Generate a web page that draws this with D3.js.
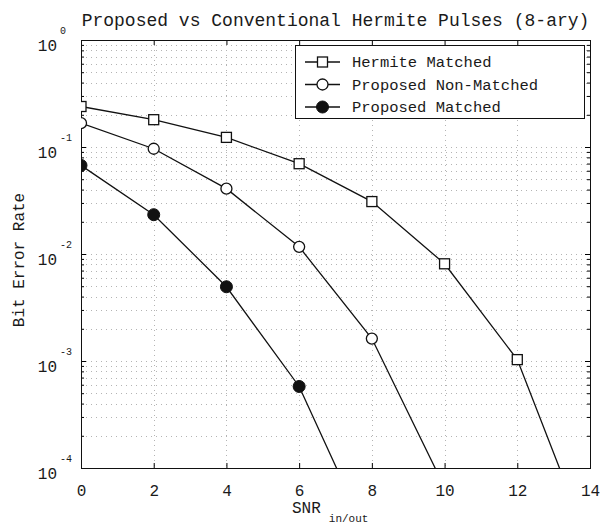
<!DOCTYPE html>
<html>
<head>
<meta charset="utf-8">
<script src="https://cdn.jsdelivr.net/npm/d3@7"></script>
<style>
  body { margin: 0; background: #fff; }
  text { font-family: "Liberation Mono", "DejaVu Sans Mono", monospace; fill: #1a1a1a; }
</style>
</head>
<body>
<svg id="chart" width="610" height="526"></svg>
<script>
// Tick values
const snrTicks = [0, 2, 4, 6, 8, 10, 12, 14];
const berDecades = [1, 0.1, 0.01, 0.001, 0.0001];
const berExponents = ["0", "-1", "-2", "-3", "-4"];

// Bit error rate curves (last point of each runs below the axis floor)
const hermiteSNR = [0, 2, 4, 6, 8, 10, 12, 14];
const hermiteBER = [0.239, 0.180, 0.123, 0.0698, 0.0309, 0.0081, 0.00103, 0.0000185];

const nonMatchedSNR = [0, 2, 4, 6, 8, 10];
const nonMatchedBER = [0.167, 0.0963, 0.0408, 0.01167, 0.00162, 0.000066];

const matchedSNR = [0, 2, 4, 6, 8];
const matchedBER = [0.0673, 0.0233, 0.00494, 0.000578, 0.000019];

const seriesNames = ["Hermite Matched", "Proposed Non-Matched", "Proposed Matched"];
const seriesMarkers = ["square", "circle", "disc"];

const series = [
  { name: seriesNames[0], marker: seriesMarkers[0], xs: hermiteSNR, ys: hermiteBER },
  { name: seriesNames[1], marker: seriesMarkers[1], xs: nonMatchedSNR, ys: nonMatchedBER },
  { name: seriesNames[2], marker: seriesMarkers[2], xs: matchedSNR, ys: matchedBER }
];

const L = 81, R = 590, T = 40, B = 468;
const svg = d3.select("#chart");

const x = d3.scaleLinear().domain([0, 14]).range([L, R]);
const y = d3.scaleLog().domain([1e-4, 1]).range([B, T]);

// Minor log values 2..9 in each decade
const minorVals = [];
[1e-4, 1e-3, 1e-2, 1e-1].forEach(d => { for (let k = 2; k <= 9; k++) minorVals.push(d * k); });

// Faint dotted grid
const grid = svg.append("g").attr("stroke", "#b4b4b4").attr("stroke-width", 1)
  .attr("stroke-dasharray", "1,4").attr("fill", "none");
grid.selectAll("line.h").data(minorVals.concat(berDecades.slice(1, 4))).join("line")
  .attr("x1", L).attr("x2", R).attr("y1", d => Math.round(y(d)) + 0.5).attr("y2", d => Math.round(y(d)) + 0.5);
grid.selectAll("line.v").data(snrTicks.slice(1, -1)).join("line")
  .attr("x1", d => Math.round(x(d)) + 0.5).attr("x2", d => Math.round(x(d)) + 0.5)
  .attr("y1", T).attr("y2", B);

// Axes with inward ticks on all four sides
const xBottom = d3.axisBottom(x).tickValues(snrTicks).tickSizeInner(-5).tickSizeOuter(0).tickPadding(17);
const gxB = svg.append("g").attr("transform", `translate(0,${B})`).call(xBottom);
gxB.selectAll("text").attr("font-size", 16).attr("font-family", "Liberation Mono").attr("fill", "#1a1a1a");

const xTop = d3.axisTop(x).tickValues(snrTicks).tickSizeInner(-5).tickSizeOuter(0).tickFormat("");
svg.append("g").attr("transform", `translate(0,${T})`).call(xTop);

const yLeftMajor = d3.axisLeft(y).tickValues(berDecades).tickSizeInner(-5).tickSizeOuter(0).tickFormat("");
svg.append("g").attr("transform", `translate(${L},0)`).call(yLeftMajor);
const yLeftMinor = d3.axisLeft(y).tickValues(minorVals).tickSizeInner(-3).tickSizeOuter(0).tickFormat("");
svg.append("g").attr("transform", `translate(${L},0)`).call(yLeftMinor);
const yRightMajor = d3.axisRight(y).tickValues(berDecades).tickSizeInner(-5).tickSizeOuter(0).tickFormat("");
svg.append("g").attr("transform", `translate(${R},0)`).call(yRightMajor);
const yRightMinor = d3.axisRight(y).tickValues(minorVals).tickSizeInner(-3).tickSizeOuter(0).tickFormat("");
svg.append("g").attr("transform", `translate(${R},0)`).call(yRightMinor);

svg.selectAll(".domain").remove();

// Frame
svg.append("rect").attr("x", L + 0.5).attr("y", T + 0.5).attr("width", R - L).attr("height", B - T)
  .attr("fill", "none").attr("stroke", "#111").attr("stroke-width", 1);

// Y tick labels: 10 with superscript exponent
const yl = svg.append("g");
berDecades.forEach((d, i) => {
  yl.append("text").attr("x", 57).attr("y", y(d) + 11).attr("text-anchor", "end")
    .attr("font-size", 16).text("10");
  yl.append("text").attr("x", 60).attr("y", y(d) - 6).attr("font-size", 10)
    .text(berExponents[i]);
});

// Curves
const clip = svg.append("clipPath").attr("id", "plotclip");
clip.append("rect").attr("x", L).attr("y", T).attr("width", R - L + 1).attr("height", B - T + 1);
const plot = svg.append("g").attr("clip-path", "url(#plotclip)");

const line = d3.line().x(d => x(d[0])).y(d => y(d[1]));

function drawMarker(g, kind, cx, cy) {
  if (kind === "square") {
    g.append("rect").attr("x", cx - 5).attr("y", cy - 5).attr("width", 10).attr("height", 10)
      .attr("fill", "#fff").attr("stroke", "#111").attr("stroke-width", 1.3);
  } else if (kind === "circle") {
    g.append("circle").attr("cx", cx).attr("cy", cy).attr("r", 5.5)
      .attr("fill", "#fff").attr("stroke", "#111").attr("stroke-width", 1.3);
  } else {
    g.append("circle").attr("cx", cx).attr("cy", cy).attr("r", 6)
      .attr("fill", "#111").attr("stroke", "#111").attr("stroke-width", 1);
  }
}

series.forEach(s => {
  const pts = s.xs.map((v, i) => [v, s.ys[i]]);
  plot.append("path").datum(pts).attr("d", line)
    .attr("fill", "none").attr("stroke", "#111").attr("stroke-width", 1.3);
  pts.forEach(p => drawMarker(plot, s.marker, x(p[0]), y(p[1])));
});

// Legend
const lg = svg.append("g");
lg.append("rect").attr("x", 295.5).attr("y", 45.5).attr("width", 289).attr("height", 73)
  .attr("fill", "#fff").attr("stroke", "#111").attr("stroke-width", 1);
const rowY = [62, 84.5, 107];
series.forEach((s, i) => {
  lg.append("line").attr("x1", 305).attr("x2", 340).attr("y1", rowY[i]).attr("y2", rowY[i])
    .attr("stroke", "#111").attr("stroke-width", 1.3);
  drawMarker(lg, s.marker, 322.5, rowY[i]);
  lg.append("text").attr("x", 352).attr("y", rowY[i] + 5).attr("font-size", 15.5).text(s.name);
});

// Title and axis labels
svg.append("text").attr("x", (L + R) / 2).attr("y", 26).attr("text-anchor", "middle")
  .attr("font-size", 18).attr("fill", "#2a2a2a").text("Proposed vs Conventional Hermite Pulses (8-ary)");

const xl = svg.append("text").attr("x", 292).attr("y", 513).attr("font-size", 16);
xl.append("tspan").text("SNR");
xl.append("tspan").attr("dx", 8).attr("dy", 9).attr("font-size", 11).text("in/out");

svg.append("text").attr("transform", `translate(24,${(T + B) / 2 + 6}) rotate(-90)`)
  .attr("text-anchor", "middle").attr("font-size", 16).text("Bit Error Rate");
</script>
</body>
</html>
